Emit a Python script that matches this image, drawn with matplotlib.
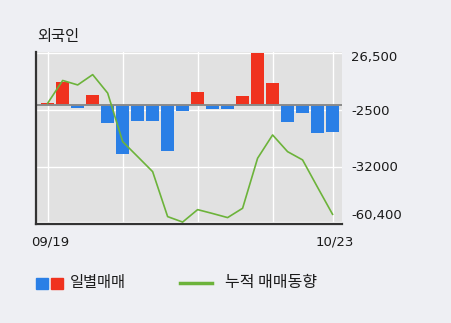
import matplotlib
matplotlib.use("Agg")
import matplotlib.pyplot as plt
from matplotlib.transforms import blended_transform_factory, ScaledTranslation
from matplotlib.patches import Rectangle
from matplotlib.lines import Line2D

plt.rcParams['font.family'] = ['Noto Sans CJK KR', 'DejaVu Sans']

# Foreign investor net trading (shares)
dates = ["09/19", "09/20", "09/23", "09/24", "09/25", "09/26", "09/27", "09/30",
         "10/01", "10/02", "10/04", "10/07", "10/08", "10/10", "10/11", "10/14",
         "10/15", "10/16", "10/17", "10/18"]
daily = [800, 11900, -1800, 5050, -9200, -25500, -8200, -8200, -23800, -3000,
         6750, -2300, -2000, 4550, 26500, 11400, -8700, -4050, -14400, -13850]
cumulative = [800, 12500, 10200, 15500, 6000, -19000, -26700, -34450, -57600, -60400,
              -54000, -56000, -58100, -53300, -27550, -15550, -24150, -28400, -42500, -56400]
tick_values = [26500, -2500, -32000, -60400]
tick_labels = ["26,500", "-2500", "-32000", "-60,400"]
x_labels = ["09/19", "10/23"]

RED = "#f0321e"
BLUE = "#2a7fe6"
GREEN = "#6cb33a"
FIG_BG = "#eeeff3"
AX_BG = "#e1e1e1"
TEXT = "#1a1a1a"

fig = plt.figure(figsize=(4.51, 3.23), dpi=100, facecolor=FIG_BG)
ax = fig.add_axes([36 / 451, 1 - 224 / 323, 306 / 451, (224 - 52.3) / 323])
ax.set_facecolor(AX_BG)

x = list(range(len(daily)))
colors = [RED if v > 0 else BLUE for v in daily]
ax.bar(x, daily, width=0.87, color=colors, zorder=2)
ax.axhline(0, color="#8a8a8a", lw=1.4, zorder=3)
ax.plot(x, cumulative, color=GREEN, lw=1.2, zorder=4)

ax.set_xlim(-0.78, 19.63)
ax.set_ylim(-61400, 27000)

# white grid
for v in tick_values:
    ax.axhline(v, color="white", lw=1.0, zorder=1)
for i in [0, 5, 10, 15, 19]:
    ax.axvline(i, color="white", lw=1.0, zorder=1)

ax.set_xticks([])
ax.set_yticks([])
for s in ["top", "right"]:
    ax.spines[s].set_visible(False)
for s in ["left", "bottom"]:
    ax.spines[s].set_color("#333333")
    ax.spines[s].set_linewidth(1.6)
ax.spines["left"].set_zorder(5)
ax.spines["bottom"].set_zorder(5)

# right-side value labels
tr = blended_transform_factory(ax.transAxes, ax.transData)
offsets = [-4, -2, -1, 7]
for v, lab, dy in zip(tick_values, tick_labels, offsets):
    ax.text(1.03, v, lab, transform=tr + ScaledTranslation(0, dy / 100, fig.dpi_scale_trans),
            ha="left", va="center", fontsize=9.5, color=TEXT, family="DejaVu Sans")

# date labels
trx = blended_transform_factory(ax.transData, fig.transFigure)
shift = ScaledTranslation(2 / 100, 0, fig.dpi_scale_trans)
ax.text(0, 1 - 242 / 323, x_labels[0], transform=trx + shift, ha="center", va="center",
        fontsize=9.5, color=TEXT, family="DejaVu Sans")
ax.text(19, 1 - 242 / 323, x_labels[1], transform=trx + shift, ha="center", va="center",
        fontsize=9.5, color=TEXT, family="DejaVu Sans")

# title
fig.text(37 / 451, 1 - 37 / 323, "외국인", ha="left", va="center", fontsize=11, color=TEXT)

# legend
fig.patches.append(Rectangle((36 / 451, 1 - 289 / 323), 12 / 451, 11 / 323,
                             transform=fig.transFigure, color=BLUE))
fig.patches.append(Rectangle((51 / 451, 1 - 289 / 323), 12 / 451, 11 / 323,
                             transform=fig.transFigure, color=RED))
fig.text(70 / 451, 1 - 283 / 323, "일별매매", ha="left", va="center", fontsize=11, color=TEXT)
fig.lines.append(Line2D([180 / 451, 212 / 451], [1 - 283 / 323, 1 - 283 / 323],
                        transform=fig.transFigure, color=GREEN, lw=2.5))
fig.text(225 / 451, 1 - 283 / 323, "누적 매매동향", ha="left", va="center", fontsize=11.5, color=TEXT)

fig.savefig("out.png", dpi=100, facecolor=FIG_BG)
